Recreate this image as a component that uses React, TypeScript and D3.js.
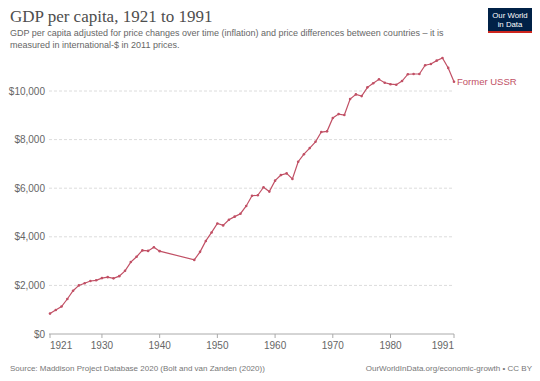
import React from "react";
import * as d3 from "d3";

const years: number[] = [
  1921, 1922, 1923, 1924, 1925, 1926, 1927, 1928, 1929, 1930,
  1931, 1932, 1933, 1934, 1935, 1936, 1937, 1938, 1939, 1940,
  1946, 1947, 1948, 1949, 1950, 1951, 1952, 1953, 1954, 1955,
  1956, 1957, 1958, 1959, 1960, 1961, 1962, 1963, 1964, 1965,
  1966, 1967, 1968, 1969, 1970, 1971, 1972, 1973, 1974, 1975,
  1976, 1977, 1978, 1979, 1980, 1981, 1982, 1983, 1984, 1985,
  1986, 1987, 1988, 1989, 1990, 1991,
];
const gdpValues: number[] = [
  840, 990, 1130, 1440, 1780, 2000, 2090, 2180, 2210, 2300,
  2340, 2290, 2380, 2600, 2960, 3180, 3440, 3420, 3570, 3410,
  3050, 3380, 3830, 4180, 4550, 4470, 4700, 4830, 4950, 5270,
  5690, 5710, 6040, 5860, 6310, 6540, 6610, 6380, 7090, 7400,
  7650, 7910, 8310, 8340, 8890, 9050, 9010, 9670, 9860, 9790,
  10150, 10320, 10480, 10340, 10280, 10260, 10410, 10690, 10700, 10700,
  11060, 11110, 11250, 11360, 10950, 10380,
];
const yTicks: number[] = [0, 2000, 4000, 6000, 8000, 10000];
const xTicks: number[] = [1921, 1930, 1940, 1950, 1960, 1970, 1980, 1991];
const seriesName = "Former USSR";
const title = "GDP per capita, 1921 to 1991";
const subtitleLines: string[] = [
  "GDP per capita adjusted for price changes over time (inflation) and price differences between countries – it is",
  "measured in international-$ in 2011 prices.",
];
const sourceText = "Source: Maddison Project Database 2020 (Bolt and van Zanden (2020))";
const urlText = "OurWorldInData.org/economic-growth • CC BY";

const W = 540;
const H = 381;
const SANS = "'Liberation Sans', Arial, sans-serif";
const SERIF = "'Liberation Serif', 'Times New Roman', serif";
const LINE = "#c15065";

export default function App() {
  const x = d3.scaleLinear().domain([1921, 1991]).range([50, 454]);
  const y = d3.scaleLinear().domain([0, 10000]).range([334, 91]);
  const data = years.map((yr, i) => ({ yr, v: gdpValues[i] }));
  const line = d3
    .line<{ yr: number; v: number }>()
    .x((d) => x(d.yr))
    .y((d) => y(d.v));
  const fmt = (v: number) => "$" + d3.format(",")(v);
  const last = data[data.length - 1];

  return (
    <svg
      width={W}
      height={H}
      viewBox={`0 0 ${W} ${H}`}
      style={{ position: "absolute", left: 0, top: 0, background: "#fff" }}
    >
      <rect x={0} y={0} width={W} height={H} fill="#fff" />
      <text x={10} y={22} fontFamily={SERIF} fontSize={17} fill="#4e4e4e">
        {title}
      </text>
      {subtitleLines.map((s, i) => (
        <text key={i} x={10} y={36 + i * 12} fontFamily={SANS} fontSize={9} fill="#666">
          {s}
        </text>
      ))}
      <g>
        <rect x={488} y={8} width={44} height={25} fill="#002147" />
        <rect x={488} y={31} width={44} height={2} fill="#ce261e" />
        <text x={510} y={18} textAnchor="middle" fontFamily={SANS} fontSize={7.8} fill="#fff">
          Our World
        </text>
        <text x={510} y={27} textAnchor="middle" fontFamily={SANS} fontSize={7.8} fill="#fff">
          in Data
        </text>
      </g>
      {yTicks.map((t) => (
        <g key={t}>
          {t > 0 && (
            <line
              x1={49}
              x2={454}
              y1={y(t)}
              y2={y(t)}
              stroke="#dcdcdc"
              strokeDasharray="3,2"
            />
          )}
          <text
            x={45}
            y={y(t) + 3.5}
            textAnchor="end"
            fontFamily={SANS}
            fontSize={10}
            fill="#666"
          >
            {fmt(t)}
          </text>
        </g>
      ))}
      <line x1={49} x2={454} y1={y(0)} y2={y(0)} stroke="#aaa" />
      {xTicks.map((t, i) => (
        <g key={t}>
          <line x1={x(t)} x2={x(t)} y1={y(0)} y2={y(0) + 4} stroke="#aaa" />
          <text
            x={x(t)}
            y={y(0) + 15}
            textAnchor={i === 0 ? "start" : i === xTicks.length - 1 ? "end" : "middle"}
            fontFamily={SANS}
            fontSize={10}
            fill="#666"
          >
            {t}
          </text>
        </g>
      ))}
      <path d={line(data) || ""} fill="none" stroke={LINE} strokeWidth={1.2} />
      {data.map((d) => (
        <circle key={d.yr} cx={x(d.yr)} cy={y(d.v)} r={1.3} fill={LINE} />
      ))}
      <text
        x={x(last.yr) + 3}
        y={y(last.v) + 3.5}
        fontFamily={SANS}
        fontSize={9.5}
        fill={LINE}
      >
        {seriesName}
      </text>
      <text x={10} y={371} fontFamily={SANS} fontSize={8} fill="#777">
        {sourceText}
      </text>
      <text x={532} y={371} textAnchor="end" fontFamily={SANS} fontSize={8} fill="#777">
        {urlText}
      </text>
    </svg>
  );
}
